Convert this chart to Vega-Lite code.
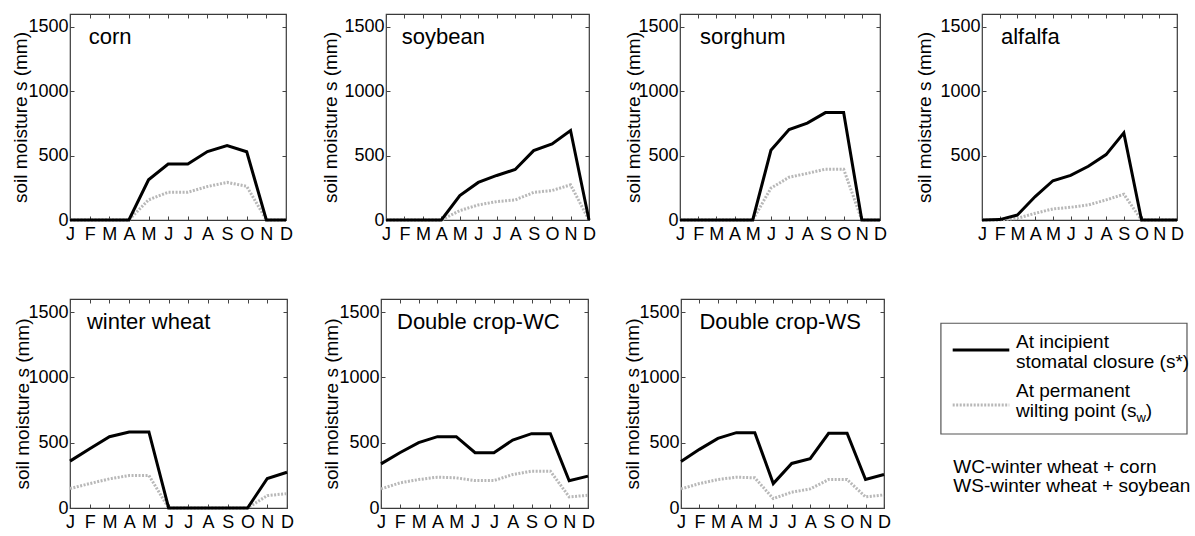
{
  "$schema": "https://vega.github.io/schema/vega-lite/v6.json",
  "padding": {"left": 10, "top": 12, "right": 0, "bottom": 0},
  "config": {
    "font": "Liberation Sans",
    "view": {"stroke": "#3a3a3a", "strokeWidth": 1.2},
    "axis": {"domain": false, "grid": false, "labelColor": "#000", "titleColor": "#000", "tickColor": "#444", "labelFont": "Liberation Sans", "titleFont": "Liberation Sans"}
  },
  "datasets": {
    "crops": [
      {"crop":"corn","month":1,"sstar":0,"sw":0},{"crop":"corn","month":2,"sstar":0,"sw":0},{"crop":"corn","month":3,"sstar":0,"sw":0},{"crop":"corn","month":4,"sstar":0,"sw":0},{"crop":"corn","month":5,"sstar":312,"sw":156},{"crop":"corn","month":6,"sstar":435,"sw":216},{"crop":"corn","month":7,"sstar":435,"sw":216},{"crop":"corn","month":8,"sstar":532,"sw":260},{"crop":"corn","month":9,"sstar":578,"sw":292},{"crop":"corn","month":10,"sstar":530,"sw":262},{"crop":"corn","month":11,"sstar":0,"sw":0},{"crop":"corn","month":12,"sstar":0,"sw":0},
      {"crop":"soybean","month":1,"sstar":0,"sw":0},{"crop":"soybean","month":2,"sstar":0,"sw":0},{"crop":"soybean","month":3,"sstar":0,"sw":0},{"crop":"soybean","month":4,"sstar":0,"sw":0},{"crop":"soybean","month":5,"sstar":190,"sw":73},{"crop":"soybean","month":6,"sstar":292,"sw":117},{"crop":"soybean","month":7,"sstar":346,"sw":143},{"crop":"soybean","month":8,"sstar":392,"sw":156},{"crop":"soybean","month":9,"sstar":539,"sw":214},{"crop":"soybean","month":10,"sstar":591,"sw":229},{"crop":"soybean","month":11,"sstar":695,"sw":273},{"crop":"soybean","month":12,"sstar":0,"sw":0},
      {"crop":"sorghum","month":1,"sstar":0,"sw":0},{"crop":"sorghum","month":2,"sstar":0,"sw":0},{"crop":"sorghum","month":3,"sstar":0,"sw":0},{"crop":"sorghum","month":4,"sstar":0,"sw":0},{"crop":"sorghum","month":5,"sstar":0,"sw":0},{"crop":"sorghum","month":6,"sstar":541,"sw":247},{"crop":"sorghum","month":7,"sstar":702,"sw":332},{"crop":"sorghum","month":8,"sstar":753,"sw":362},{"crop":"sorghum","month":9,"sstar":834,"sw":395},{"crop":"sorghum","month":10,"sstar":834,"sw":395},{"crop":"sorghum","month":11,"sstar":0,"sw":0},{"crop":"sorghum","month":12,"sstar":0,"sw":0},
      {"crop":"alfalfa","month":1,"sstar":0,"sw":0},{"crop":"alfalfa","month":2,"sstar":3,"sw":0},{"crop":"alfalfa","month":3,"sstar":39,"sw":13},{"crop":"alfalfa","month":4,"sstar":182,"sw":52},{"crop":"alfalfa","month":5,"sstar":305,"sw":86},{"crop":"alfalfa","month":6,"sstar":346,"sw":99},{"crop":"alfalfa","month":7,"sstar":417,"sw":117},{"crop":"alfalfa","month":8,"sstar":508,"sw":156},{"crop":"alfalfa","month":9,"sstar":677,"sw":200},{"crop":"alfalfa","month":10,"sstar":0,"sw":0},{"crop":"alfalfa","month":11,"sstar":0,"sw":0},{"crop":"alfalfa","month":12,"sstar":0,"sw":0},
      {"crop":"winter wheat","month":1,"sstar":359,"sw":149},{"crop":"winter wheat","month":2,"sstar":454,"sw":187},{"crop":"winter wheat","month":3,"sstar":546,"sw":223},{"crop":"winter wheat","month":4,"sstar":582,"sw":249},{"crop":"winter wheat","month":5,"sstar":582,"sw":249},{"crop":"winter wheat","month":6,"sstar":0,"sw":0},{"crop":"winter wheat","month":7,"sstar":0,"sw":0},{"crop":"winter wheat","month":8,"sstar":0,"sw":0},{"crop":"winter wheat","month":9,"sstar":0,"sw":0},{"crop":"winter wheat","month":10,"sstar":0,"sw":0},{"crop":"winter wheat","month":11,"sstar":226,"sw":95},{"crop":"winter wheat","month":12,"sstar":274,"sw":110},
      {"crop":"Double crop-WC","month":1,"sstar":338,"sw":146},{"crop":"Double crop-WC","month":2,"sstar":423,"sw":192},{"crop":"Double crop-WC","month":3,"sstar":500,"sw":218},{"crop":"Double crop-WC","month":4,"sstar":546,"sw":236},{"crop":"Double crop-WC","month":5,"sstar":546,"sw":231},{"crop":"Double crop-WC","month":6,"sstar":423,"sw":210},{"crop":"Double crop-WC","month":7,"sstar":423,"sw":210},{"crop":"Double crop-WC","month":8,"sstar":520,"sw":256},{"crop":"Double crop-WC","month":9,"sstar":569,"sw":282},{"crop":"Double crop-WC","month":10,"sstar":569,"sw":282},{"crop":"Double crop-WC","month":11,"sstar":208,"sw":85},{"crop":"Double crop-WC","month":12,"sstar":244,"sw":97},
      {"crop":"Double crop-WS","month":1,"sstar":356,"sw":146},{"crop":"Double crop-WS","month":2,"sstar":449,"sw":187},{"crop":"Double crop-WS","month":3,"sstar":533,"sw":218},{"crop":"Double crop-WS","month":4,"sstar":577,"sw":236},{"crop":"Double crop-WS","month":5,"sstar":577,"sw":231},{"crop":"Double crop-WS","month":6,"sstar":187,"sw":72},{"crop":"Double crop-WS","month":7,"sstar":341,"sw":121},{"crop":"Double crop-WS","month":8,"sstar":377,"sw":146},{"crop":"Double crop-WS","month":9,"sstar":572,"sw":218},{"crop":"Double crop-WS","month":10,"sstar":572,"sw":218},{"crop":"Double crop-WS","month":11,"sstar":218,"sw":85},{"crop":"Double crop-WS","month":12,"sstar":256,"sw":100}
    ]
  },
  "vconcat": [
    {
      "spacing": 26,
      "hconcat": [
        {
          "width": 216, "height": 206,
          "layer": [
            {"data": {"name": "crops"}, "transform": [{"filter": "datum.crop === 'corn'"}],
             "mark": {"type": "line", "color": "#b8b8b8", "strokeWidth": 3, "strokeDash": [2, 1.5]},
             "encoding": {
               "x": {"field": "month", "type": "quantitative", "scale": {"domain": [1, 12], "nice": false, "zero": false}, "axis": {"values": [1,2,3,4,5,6,7,8,9,10,11,12], "labelExpr": "['J','F','M','A','M','J','J','A','S','O','N','D'][datum.value-1]", "title": null, "tickSize": -4, "labelPadding": 9, "labelFontSize": 18, "labelFlush": false, "labelOverlap": false}},
               "y": {"field": "sw", "type": "quantitative", "scale": {"domain": [0, 1600], "nice": false}, "axis": {"values": [0, 500, 1000, 1500], "format": "d", "title": "soil moisture s (mm)", "tickSize": -4, "labelPadding": 6, "labelFontSize": 18, "titleFontSize": 19, "titleFontWeight": "normal", "titlePadding": 0, "minExtent": 40, "maxExtent": 40}}
             }},
            {"data": {"name": "crops"}, "transform": [{"filter": "datum.crop === 'corn'"}],
             "mark": {"type": "line", "color": "#000000", "strokeWidth": 3},
             "encoding": {
               "x": {"field": "month", "type": "quantitative", "axis": null},
               "y": {"field": "sstar", "type": "quantitative", "axis": null}
             }},
            {"data": {"name": "crops"}, "transform": [{"filter": "datum.crop === 'corn' && datum.month === 1"}],
             "mark": {"type": "text", "align": "left", "baseline": "alphabetic", "fontSize": 22},
             "encoding": {
               "x": {"datum": 1.95, "type": "quantitative", "axis": {"orient": "top", "values": [1,2,3,4,5,6,7,8,9,10,11,12], "labels": false, "title": null, "tickSize": -4, "minExtent": 0, "maxExtent": 0}},
               "y": {"datum": 1370, "type": "quantitative", "axis": {"orient": "right", "values": [0, 500, 1000, 1500], "labels": false, "title": null, "tickSize": -4, "minExtent": 0, "maxExtent": 0}},
               "text": {"field": "crop"}
             }}
          ],
          "resolve": {"axis": {"x": "independent", "y": "independent"}}
        },
        {
          "width": 203, "height": 206,
          "layer": [
            {"data": {"name": "crops"}, "transform": [{"filter": "datum.crop === 'soybean'"}],
             "mark": {"type": "line", "color": "#b8b8b8", "strokeWidth": 3, "strokeDash": [2, 1.5]},
             "encoding": {
               "x": {"field": "month", "type": "quantitative", "scale": {"domain": [1, 12], "nice": false, "zero": false}, "axis": {"values": [1,2,3,4,5,6,7,8,9,10,11,12], "labelExpr": "['J','F','M','A','M','J','J','A','S','O','N','D'][datum.value-1]", "title": null, "tickSize": -4, "labelPadding": 9, "labelFontSize": 18, "labelFlush": false, "labelOverlap": false}},
               "y": {"field": "sw", "type": "quantitative", "scale": {"domain": [0, 1600], "nice": false}, "axis": {"values": [0, 500, 1000, 1500], "format": "d", "title": "soil moisture s (mm)", "tickSize": -4, "labelPadding": 6, "labelFontSize": 18, "titleFontSize": 19, "titleFontWeight": "normal", "titlePadding": 0, "minExtent": 46, "maxExtent": 46}}
             }},
            {"data": {"name": "crops"}, "transform": [{"filter": "datum.crop === 'soybean'"}],
             "mark": {"type": "line", "color": "#000000", "strokeWidth": 3},
             "encoding": {
               "x": {"field": "month", "type": "quantitative", "axis": null},
               "y": {"field": "sstar", "type": "quantitative", "axis": null}
             }},
            {"data": {"name": "crops"}, "transform": [{"filter": "datum.crop === 'soybean' && datum.month === 1"}],
             "mark": {"type": "text", "align": "left", "baseline": "alphabetic", "fontSize": 22},
             "encoding": {
               "x": {"datum": 1.85, "type": "quantitative", "axis": {"orient": "top", "values": [1,2,3,4,5,6,7,8,9,10,11,12], "labels": false, "title": null, "tickSize": -4, "minExtent": 0, "maxExtent": 0}},
               "y": {"datum": 1370, "type": "quantitative", "axis": {"orient": "right", "values": [0, 500, 1000, 1500], "labels": false, "title": null, "tickSize": -4, "minExtent": 0, "maxExtent": 0}},
               "text": {"field": "crop"}
             }}
          ],
          "resolve": {"axis": {"x": "independent", "y": "independent"}}
        },
        {
          "width": 200, "height": 206,
          "layer": [
            {"data": {"name": "crops"}, "transform": [{"filter": "datum.crop === 'sorghum'"}],
             "mark": {"type": "line", "color": "#b8b8b8", "strokeWidth": 3, "strokeDash": [2, 1.5]},
             "encoding": {
               "x": {"field": "month", "type": "quantitative", "scale": {"domain": [1, 12], "nice": false, "zero": false}, "axis": {"values": [1,2,3,4,5,6,7,8,9,10,11,12], "labelExpr": "['J','F','M','A','M','J','J','A','S','O','N','D'][datum.value-1]", "title": null, "tickSize": -4, "labelPadding": 9, "labelFontSize": 18, "labelFlush": false, "labelOverlap": false}},
               "y": {"field": "sw", "type": "quantitative", "scale": {"domain": [0, 1600], "nice": false}, "axis": {"values": [0, 500, 1000, 1500], "format": "d", "title": "soil moisture s (mm)", "tickSize": -4, "labelPadding": 6, "labelFontSize": 18, "titleFontSize": 19, "titleFontWeight": "normal", "titlePadding": 0, "minExtent": 37, "maxExtent": 37}}
             }},
            {"data": {"name": "crops"}, "transform": [{"filter": "datum.crop === 'sorghum'"}],
             "mark": {"type": "line", "color": "#000000", "strokeWidth": 3},
             "encoding": {
               "x": {"field": "month", "type": "quantitative", "axis": null},
               "y": {"field": "sstar", "type": "quantitative", "axis": null}
             }},
            {"data": {"name": "crops"}, "transform": [{"filter": "datum.crop === 'sorghum' && datum.month === 1"}],
             "mark": {"type": "text", "align": "left", "baseline": "alphabetic", "fontSize": 22},
             "encoding": {
               "x": {"datum": 2.1, "type": "quantitative", "axis": {"orient": "top", "values": [1,2,3,4,5,6,7,8,9,10,11,12], "labels": false, "title": null, "tickSize": -4, "minExtent": 0, "maxExtent": 0}},
               "y": {"datum": 1370, "type": "quantitative", "axis": {"orient": "right", "values": [0, 500, 1000, 1500], "labels": false, "title": null, "tickSize": -4, "minExtent": 0, "maxExtent": 0}},
               "text": {"field": "crop"}
             }}
          ],
          "resolve": {"axis": {"x": "independent", "y": "independent"}}
        },
        {
          "width": 195, "height": 206,
          "layer": [
            {"data": {"name": "crops"}, "transform": [{"filter": "datum.crop === 'alfalfa'"}],
             "mark": {"type": "line", "color": "#b8b8b8", "strokeWidth": 3, "strokeDash": [2, 1.5]},
             "encoding": {
               "x": {"field": "month", "type": "quantitative", "scale": {"domain": [1, 12], "nice": false, "zero": false}, "axis": {"values": [1,2,3,4,5,6,7,8,9,10,11,12], "labelExpr": "['J','F','M','A','M','J','J','A','S','O','N','D'][datum.value-1]", "title": null, "tickSize": -4, "labelPadding": 9, "labelFontSize": 18, "labelFlush": false, "labelOverlap": false}},
               "y": {"field": "sw", "type": "quantitative", "scale": {"domain": [0, 1600], "nice": false}, "axis": {"values": [500, 1000, 1500], "format": "d", "title": "soil moisture s (mm)", "tickSize": -4, "labelPadding": 6, "labelFontSize": 18, "titleFontSize": 19, "titleFontWeight": "normal", "titlePadding": 0, "minExtent": 48, "maxExtent": 48}}
             }},
            {"data": {"name": "crops"}, "transform": [{"filter": "datum.crop === 'alfalfa'"}],
             "mark": {"type": "line", "color": "#000000", "strokeWidth": 3},
             "encoding": {
               "x": {"field": "month", "type": "quantitative", "axis": null},
               "y": {"field": "sstar", "type": "quantitative", "axis": null}
             }},
            {"data": {"name": "crops"}, "transform": [{"filter": "datum.crop === 'alfalfa' && datum.month === 1"}],
             "mark": {"type": "text", "align": "left", "baseline": "alphabetic", "fontSize": 22},
             "encoding": {
               "x": {"datum": 2.07, "type": "quantitative", "axis": {"orient": "top", "values": [1,2,3,4,5,6,7,8,9,10,11,12], "labels": false, "title": null, "tickSize": -4, "minExtent": 0, "maxExtent": 0}},
               "y": {"datum": 1370, "type": "quantitative", "axis": {"orient": "right", "values": [0, 500, 1000, 1500], "labels": false, "title": null, "tickSize": -4, "minExtent": 0, "maxExtent": 0}},
               "text": {"field": "crop"}
             }}
          ],
          "resolve": {"axis": {"x": "independent", "y": "independent"}}
        }
      ]
    },
    {
      "spacing": 26,
      "hconcat": [
        {
          "width": 217, "height": 209,
          "layer": [
            {"data": {"name": "crops"}, "transform": [{"filter": "datum.crop === 'winter wheat'"}],
             "mark": {"type": "line", "color": "#b8b8b8", "strokeWidth": 3, "strokeDash": [2, 1.5]},
             "encoding": {
               "x": {"field": "month", "type": "quantitative", "scale": {"domain": [1, 12], "nice": false, "zero": false}, "axis": {"values": [1,2,3,4,5,6,7,8,9,10,11,12], "labelExpr": "['J','F','M','A','M','J','J','A','S','O','N','D'][datum.value-1]", "title": null, "tickSize": -4, "labelPadding": 9, "labelFontSize": 18, "labelFlush": false, "labelOverlap": false}},
               "y": {"field": "sw", "type": "quantitative", "scale": {"domain": [0, 1600], "nice": false}, "axis": {"values": [0, 500, 1000, 1500], "format": "d", "title": "soil moisture s (mm)", "tickSize": -4, "labelPadding": 6, "labelFontSize": 18, "titleFontSize": 19, "titleFontWeight": "normal", "titlePadding": 0, "minExtent": 38, "maxExtent": 38}}
             }},
            {"data": {"name": "crops"}, "transform": [{"filter": "datum.crop === 'winter wheat'"}],
             "mark": {"type": "line", "color": "#000000", "strokeWidth": 3},
             "encoding": {
               "x": {"field": "month", "type": "quantitative", "axis": null},
               "y": {"field": "sstar", "type": "quantitative", "axis": null}
             }},
            {"data": {"name": "crops"}, "transform": [{"filter": "datum.crop === 'winter wheat' && datum.month === 1"}],
             "mark": {"type": "text", "align": "left", "baseline": "alphabetic", "fontSize": 22},
             "encoding": {
               "x": {"datum": 1.86, "type": "quantitative", "axis": {"orient": "top", "values": [1,2,3,4,5,6,7,8,9,10,11,12], "labels": false, "title": null, "tickSize": -4, "minExtent": 0, "maxExtent": 0}},
               "y": {"datum": 1370, "type": "quantitative", "axis": {"orient": "right", "values": [0, 500, 1000, 1500], "labels": false, "title": null, "tickSize": -4, "minExtent": 0, "maxExtent": 0}},
               "text": {"field": "crop"}
             }}
          ],
          "resolve": {"axis": {"x": "independent", "y": "independent"}}
        },
        {
          "width": 207, "height": 209,
          "layer": [
            {"data": {"name": "crops"}, "transform": [{"filter": "datum.crop === 'Double crop-WC'"}],
             "mark": {"type": "line", "color": "#b8b8b8", "strokeWidth": 3, "strokeDash": [2, 1.5]},
             "encoding": {
               "x": {"field": "month", "type": "quantitative", "scale": {"domain": [1, 12], "nice": false, "zero": false}, "axis": {"values": [1,2,3,4,5,6,7,8,9,10,11,12], "labelExpr": "['J','F','M','A','M','J','J','A','S','O','N','D'][datum.value-1]", "title": null, "tickSize": -4, "labelPadding": 9, "labelFontSize": 18, "labelFlush": false, "labelOverlap": false}},
               "y": {"field": "sw", "type": "quantitative", "scale": {"domain": [0, 1600], "nice": false}, "axis": {"values": [0, 500, 1000, 1500], "format": "d", "title": "soil moisture s (mm)", "tickSize": -4, "labelPadding": 6, "labelFontSize": 18, "titleFontSize": 19, "titleFontWeight": "normal", "titlePadding": 0, "minExtent": 40, "maxExtent": 40}}
             }},
            {"data": {"name": "crops"}, "transform": [{"filter": "datum.crop === 'Double crop-WC'"}],
             "mark": {"type": "line", "color": "#000000", "strokeWidth": 3},
             "encoding": {
               "x": {"field": "month", "type": "quantitative", "axis": null},
               "y": {"field": "sstar", "type": "quantitative", "axis": null}
             }},
            {"data": {"name": "crops"}, "transform": [{"filter": "datum.crop === 'Double crop-WC' && datum.month === 1"}],
             "mark": {"type": "text", "align": "left", "baseline": "alphabetic", "fontSize": 22},
             "encoding": {
               "x": {"datum": 1.85, "type": "quantitative", "axis": {"orient": "top", "values": [1,2,3,4,5,6,7,8,9,10,11,12], "labels": false, "title": null, "tickSize": -4, "minExtent": 0, "maxExtent": 0}},
               "y": {"datum": 1370, "type": "quantitative", "axis": {"orient": "right", "values": [0, 500, 1000, 1500], "labels": false, "title": null, "tickSize": -4, "minExtent": 0, "maxExtent": 0}},
               "text": {"field": "crop"}
             }}
          ],
          "resolve": {"axis": {"x": "independent", "y": "independent"}}
        },
        {
          "width": 203, "height": 209,
          "layer": [
            {"data": {"name": "crops"}, "transform": [{"filter": "datum.crop === 'Double crop-WS'"}],
             "mark": {"type": "line", "color": "#b8b8b8", "strokeWidth": 3, "strokeDash": [2, 1.5]},
             "encoding": {
               "x": {"field": "month", "type": "quantitative", "scale": {"domain": [1, 12], "nice": false, "zero": false}, "axis": {"values": [1,2,3,4,5,6,7,8,9,10,11,12], "labelExpr": "['J','F','M','A','M','J','J','A','S','O','N','D'][datum.value-1]", "title": null, "tickSize": -4, "labelPadding": 9, "labelFontSize": 18, "labelFlush": false, "labelOverlap": false}},
               "y": {"field": "sw", "type": "quantitative", "scale": {"domain": [0, 1600], "nice": false}, "axis": {"values": [0, 500, 1000, 1500], "format": "d", "title": "soil moisture s (mm)", "tickSize": -4, "labelPadding": 6, "labelFontSize": 18, "titleFontSize": 19, "titleFontWeight": "normal", "titlePadding": 0, "minExtent": 39, "maxExtent": 39}}
             }},
            {"data": {"name": "crops"}, "transform": [{"filter": "datum.crop === 'Double crop-WS'"}],
             "mark": {"type": "line", "color": "#000000", "strokeWidth": 3},
             "encoding": {
               "x": {"field": "month", "type": "quantitative", "axis": null},
               "y": {"field": "sstar", "type": "quantitative", "axis": null}
             }},
            {"data": {"name": "crops"}, "transform": [{"filter": "datum.crop === 'Double crop-WS' && datum.month === 1"}],
             "mark": {"type": "text", "align": "left", "baseline": "alphabetic", "fontSize": 22},
             "encoding": {
               "x": {"datum": 2.0, "type": "quantitative", "axis": {"orient": "top", "values": [1,2,3,4,5,6,7,8,9,10,11,12], "labels": false, "title": null, "tickSize": -4, "minExtent": 0, "maxExtent": 0}},
               "y": {"datum": 1370, "type": "quantitative", "axis": {"orient": "right", "values": [0, 500, 1000, 1500], "labels": false, "title": null, "tickSize": -4, "minExtent": 0, "maxExtent": 0}},
               "text": {"field": "crop"}
             }}
          ],
          "resolve": {"axis": {"x": "independent", "y": "independent"}}
        },
        {
          "width": 276, "height": 209,
          "view": {"stroke": null},
          "data": {"values": [{}]},
          "layer": [
            {"mark": {"type": "rect", "fill": "#ffffff", "fillOpacity": 0, "stroke": "#555555", "strokeWidth": 1.2},
             "encoding": {
               "x": {"datum": 0.083, "type": "quantitative", "scale": {"domain": [0, 1], "nice": false, "zero": false}, "axis": null},
               "x2": {"datum": 0.9746},
               "y": {"datum": 0.116, "type": "quantitative", "scale": {"domain": [0, 1], "nice": false, "reverse": true}, "axis": null},
               "y2": {"datum": 0.646}
             }},
            {"mark": {"type": "rule", "color": "#000000", "strokeWidth": 3},
             "encoding": {"x": {"datum": 0.1257, "type": "quantitative"}, "x2": {"datum": 0.3308}, "y": {"datum": 0.244, "type": "quantitative"}}},
            {"mark": {"type": "rule", "color": "#b8b8b8", "strokeWidth": 3, "strokeDash": [2, 1.5]},
             "encoding": {"x": {"datum": 0.1257, "type": "quantitative"}, "x2": {"datum": 0.3308}, "y": {"datum": 0.507, "type": "quantitative"}}},
            {"mark": {"type": "text", "align": "left", "baseline": "alphabetic", "fontSize": 19},
             "encoding": {"x": {"datum": 0.3551, "type": "quantitative"}, "y": {"datum": 0.236, "type": "quantitative"}, "text": {"value": "At incipient"}}},
            {"mark": {"type": "text", "align": "left", "baseline": "alphabetic", "fontSize": 19},
             "encoding": {"x": {"datum": 0.3551, "type": "quantitative"}, "y": {"datum": 0.332, "type": "quantitative"}, "text": {"value": "stomatal closure (s*)"}}},
            {"mark": {"type": "text", "align": "left", "baseline": "alphabetic", "fontSize": 19},
             "encoding": {"x": {"datum": 0.3551, "type": "quantitative"}, "y": {"datum": 0.468, "type": "quantitative"}, "text": {"value": "At permanent"}}},
            {"mark": {"type": "text", "align": "left", "baseline": "alphabetic", "fontSize": 19},
             "encoding": {"x": {"datum": 0.3551, "type": "quantitative"}, "y": {"datum": 0.563, "type": "quantitative"}, "text": {"value": "wilting point (s"}}},
            {"mark": {"type": "text", "align": "left", "baseline": "alphabetic", "fontSize": 13, "dx": 120.4, "dy": 5},
             "encoding": {"x": {"datum": 0.3551, "type": "quantitative"}, "y": {"datum": 0.563, "type": "quantitative"}, "text": {"value": "w"}}},
            {"mark": {"type": "text", "align": "left", "baseline": "alphabetic", "fontSize": 19, "dx": 129.8},
             "encoding": {"x": {"datum": 0.3551, "type": "quantitative"}, "y": {"datum": 0.563, "type": "quantitative"}, "text": {"value": ")"}}},
            {"mark": {"type": "text", "align": "left", "baseline": "alphabetic", "fontSize": 19},
             "encoding": {"x": {"datum": 0.1279, "type": "quantitative"}, "y": {"datum": 0.834, "type": "quantitative"}, "text": {"value": "WC-winter wheat + corn"}}},
            {"mark": {"type": "text", "align": "left", "baseline": "alphabetic", "fontSize": 19},
             "encoding": {"x": {"datum": 0.1279, "type": "quantitative"}, "y": {"datum": 0.925, "type": "quantitative"}, "text": {"value": "WS-winter wheat + soybean"}}}
          ]
        }
      ]
    }
  ],
  "spacing": 53
}
